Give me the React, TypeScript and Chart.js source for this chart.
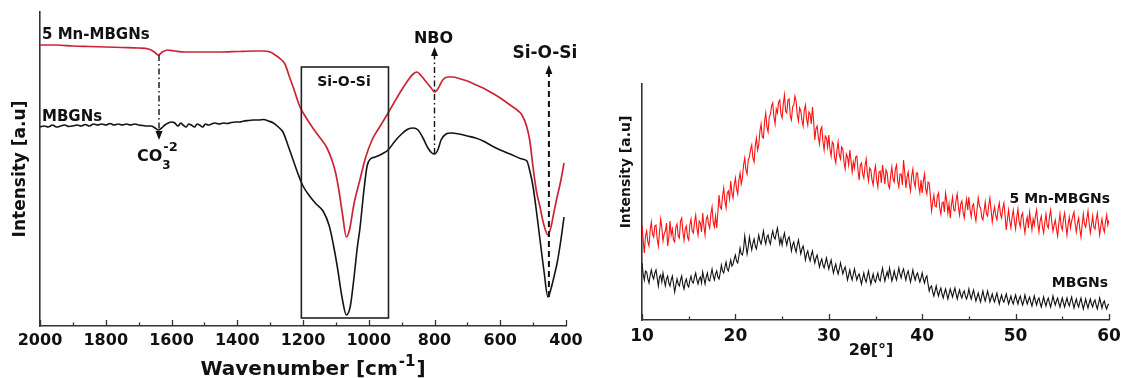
import React, { useEffect, useRef } from "react";
import { Chart, registerables } from "chart.js";

Chart.register(...registerables);

const FAMILY = "'DejaVu Sans', 'Liberation Sans', Arial, sans-serif";
const INK = "#111111";

// ---------------- FTIR (left panel) ----------------
const ftirTickValues = [2000, 1800, 1600, 1400, 1200, 1000, 800, 600, 400];
const ftirMinorTicks = [1900, 1700, 1500, 1300, 1100, 900, 700, 500];

const mnWavenumber = [
  2000, 1950, 1900, 1850, 1800, 1750, 1700, 1670, 1652, 1640, 1628, 1612, 1590, 1560, 1500, 1450, 1400,
  1350, 1320, 1300, 1280, 1265, 1255, 1240, 1230, 1220, 1209, 1190, 1170, 1150, 1127, 1110, 1100, 1090,
  1080, 1068, 1058, 1045, 1027, 1010, 990, 965, 941, 920, 900, 880, 865, 853, 840, 825, 810, 800, 790,
  775, 760, 745, 720, 700, 680, 652, 625, 600, 570, 545, 534, 520, 510, 500, 490, 479, 468, 455, 445,
  436, 427, 416, 406,
];
const mnTransmittance = [
  281, 281, 280, 279.5, 279, 278.5, 278, 277, 274, 271, 274, 276, 275, 274, 274, 274, 274.5,
  275, 275, 274, 270, 266, 262, 248, 239, 229, 219, 208, 198, 189, 178, 164, 152, 134,
  112, 89, 97, 122, 146, 168, 186, 200, 213, 225, 236, 246, 252, 254, 250, 244, 238, 234, 237,
  246, 249, 249, 247, 245, 242, 238, 233, 228, 221, 215, 211, 200, 185, 158, 135, 119, 102, 91, 100,
  115, 129, 145, 163,
];

const baseWavenumber = [
  2000, 1987, 1975, 1962, 1950, 1937, 1925, 1912, 1900, 1887, 1875, 1862, 1850, 1837, 1825, 1812, 1800,
  1787, 1775, 1762, 1750, 1737, 1725, 1712, 1700, 1687, 1675, 1662, 1650, 1640, 1630, 1620, 1610, 1600,
  1590, 1580, 1572, 1565, 1555, 1548, 1540, 1530, 1522, 1515, 1505, 1497, 1488, 1478, 1468, 1455, 1442,
  1430, 1418, 1405, 1392, 1380, 1365, 1350, 1335, 1320, 1305, 1290,
  1275, 1261, 1245, 1230, 1215, 1200, 1180, 1160, 1139, 1120, 1108, 1095, 1082, 1068, 1056,
  1045, 1035, 1027, 1015, 1005, 995, 980, 960, 941, 920, 900, 880, 865, 850, 835, 820, 808, 800, 790,
  780, 765, 750, 725, 700, 675, 652, 625, 600, 570, 534, 519, 510, 500, 490, 479, 467, 455, 445, 436,
  427, 416, 406,
];
const baseTransmittance = [
  199, 200, 199, 201, 199, 200, 201, 199.5, 200, 201, 200, 201.5, 200, 202, 201, 202, 201,
  202.5, 201, 202, 201, 202, 201, 202, 201, 200.5, 200, 200, 198, 196, 198, 201, 203, 204,
  203, 200, 203, 201, 199, 202, 201, 199, 202, 201, 199, 202, 201, 202, 203, 202, 203,
  202.5, 203.5, 204, 204, 205, 205.5, 206, 206, 206.5, 205, 203,
  199, 194, 180, 166, 152, 140, 130, 122, 115, 100, 82, 58, 30, 11, 20,
  48, 78, 97, 135, 160, 167, 169, 172, 176, 185, 192, 197, 198, 196, 188, 178, 173, 172, 176,
  186, 192, 193, 192, 190, 188, 185, 180, 176, 172, 167, 165, 155, 139, 115, 86, 55, 29, 38, 50,
  63, 85, 109,
];

// annotation anchors (data coordinates)
const siBox = { from: 1205, to: 940, low: 8, high: 259 };
const co3Arrow = { x: 1638, from: 271, to: 186 };
const nboArrow = { x: 800, from: 172, to: 279 };
const siArrow = { x: 452, from: 29, to: 261 };

// ---------------- XRD (right panel) ----------------
const xrdTickValues = [10, 20, 30, 40, 50, 60];
const xrdMinorTicks = [15, 25, 35, 45, 55];
const xrdStart = 10;
const xrdStep = 0.125;

const mnXrd = [
  95, 80, 67, 84, 89, 78, 74, 90, 98, 86, 83, 94, 95, 81, 74, 88, 101, 92, 79, 86,
  89, 97, 74, 83, 99, 85, 91, 80, 78, 93, 96, 84, 82, 99, 102, 88, 80, 91, 94, 83,
  80, 95, 101, 89, 87, 98, 105, 92, 85, 99, 97, 88, 107, 94, 85, 101, 104, 96, 92, 106,
  113, 98, 93, 104, 92, 108, 125, 113, 111, 124, 132, 119, 112, 127, 129, 121, 139, 127, 122, 135,
  142, 131, 126, 140, 147, 136, 142, 155, 162, 150, 146, 160, 163, 171, 175, 162, 158, 174, 182, 170,
  175, 189, 196, 183, 182, 199, 207, 193, 188, 203, 206, 214, 217, 203, 196, 211, 207, 218, 220, 206,
  202, 216, 225, 209, 207, 220, 221, 204, 200, 213, 215, 224, 219, 205, 199, 212, 209, 200, 194, 210,
  215, 201, 195, 208, 206, 196, 213, 199, 180, 191, 194, 183, 176, 190, 193, 178, 170, 184, 182, 173,
  185, 171, 164, 178, 176, 162, 157, 170, 178, 165, 161, 173, 171, 158, 151, 166, 163, 155, 170, 160,
  148, 158, 152, 163, 164, 150, 140, 155, 157, 146, 142, 154, 161, 147, 139, 152, 150, 140, 135, 148,
  154, 140, 133, 148, 149, 137, 155, 146, 136, 150, 147, 135, 132, 145, 153, 141, 138, 151, 155, 139,
  133, 146, 146, 135, 160, 148, 132, 143, 148, 136, 129, 144, 151, 138, 133, 147, 147, 134, 127, 140,
  127, 139, 146, 131, 126, 138, 137, 124, 109, 118, 125, 114, 113, 124, 127, 112, 106, 117, 118, 108,
  127, 119, 107, 116, 102, 115, 123, 110, 109, 120, 126, 113, 105, 116, 119, 108, 102, 113, 121, 110,
  123, 110, 103, 114, 116, 105, 99, 111, 122, 114, 112, 103, 100, 109, 118, 106, 104, 115, 122, 110,
  98, 107, 113, 104, 100, 111, 117, 106, 102, 112, 117, 104, 90, 101, 110, 99, 92, 103, 110, 99,
  91, 103, 111, 98, 93, 104, 107, 95, 87, 98, 103, 92, 108, 99, 90, 101, 95, 104, 110, 97,
  88, 99, 104, 93, 87, 97, 106, 95, 92, 103, 110, 98, 89, 95, 100, 91, 84, 96, 106, 94,
  90, 101, 107, 95, 85, 96, 103, 92, 99, 104, 108, 96, 88, 97, 102, 91, 83, 95, 106, 96,
  93, 101, 109, 97, 87, 95, 104, 93, 91, 100, 107, 96, 85, 94, 101, 92, 88, 98, 105, 95,
  100,
];
const baseXrd = [
  57, 46, 40, 49, 48, 41, 37, 45, 50, 44, 41, 47, 50, 42, 34, 43, 45, 38, 47, 40,
  34, 41, 44, 37, 34, 40, 44, 36, 28, 35, 41, 36, 34, 40, 44, 35, 31, 38, 41, 35,
  33, 40, 44, 38, 37, 43, 47, 40, 36, 41, 43, 37, 48, 42, 36, 43, 47, 40, 39, 45,
  51, 44, 40, 46, 49, 43, 41, 47, 55, 49, 47, 53, 58, 51, 49, 55, 60, 54, 56, 61,
  65, 59, 57, 64, 72, 66, 65, 71, 84, 75, 66, 73, 83, 76, 70, 77, 81, 74, 71, 78,
  85, 79, 76, 82, 89, 81, 76, 83, 85, 79, 76, 84, 89, 83, 81, 87, 92, 84, 76, 82,
  75, 82, 87, 80, 75, 81, 83, 77, 69, 75, 78, 72, 68, 75, 80, 73, 66, 71, 74, 68,
  60, 66, 69, 63, 59, 65, 69, 62, 57, 62, 65, 59, 53, 58, 61, 55, 52, 57, 62, 56,
  51, 56, 60, 53, 47, 52, 56, 50, 46, 51, 57, 52, 46, 50, 53, 47, 40, 45, 50, 44,
  40, 46, 51, 45, 40, 44, 46, 41, 36, 42, 47, 41, 38, 44, 49, 42, 36, 41, 46, 40,
  38, 43, 47, 41, 39, 46, 52, 45, 39, 44, 48, 43, 52, 46, 39, 43, 49, 44, 40, 46,
  52, 46, 42, 48, 51, 45, 40, 46, 49, 43, 38, 44, 50, 44, 40, 45, 47, 42, 38, 42,
  47, 41, 37, 42, 44, 36, 29, 33, 34, 28, 24, 29, 34, 28, 24, 29, 32, 26, 22, 27,
  31, 26, 21, 26, 31, 27, 23, 28, 32, 26, 21, 26, 30, 25, 22, 27, 29, 24, 21, 25,
  31, 25, 21, 26, 30, 24, 19, 23, 27, 22, 18, 24, 29, 23, 19, 24, 29, 24, 18, 22,
  26, 21, 18, 23, 27, 21, 16, 21, 25, 20, 18, 22, 26, 21, 16, 20, 24, 19, 16, 21,
  25, 20, 16, 21, 24, 19, 15, 19, 25, 20, 16, 20, 23, 18, 14, 19, 24, 19, 15, 20,
  22, 17, 13, 18, 23, 18, 14, 19, 22, 17, 13, 18, 24, 19, 15, 19, 22, 17, 13, 18,
  22, 17, 13, 18, 22, 17, 14, 19, 23, 17, 12, 17, 21, 16, 13, 18, 22, 16, 11, 16,
  21, 16, 12, 17, 21, 16, 13, 18, 20, 15, 11, 16, 22, 17, 12, 17, 19, 14, 11, 15,
  16,
];

// ---------------- helpers ----------------
const font = (size: number) => `bold ${size}px ${FAMILY}`;

function drawText(ctx: CanvasRenderingContext2D, s: string, x: number, y: number, size: number, align: CanvasTextAlign = "left") {
  ctx.font = font(size);
  ctx.fillStyle = INK;
  ctx.textAlign = align;
  ctx.textBaseline = "alphabetic";
  ctx.fillText(s, x, y);
}

function drawArrow(ctx: CanvasRenderingContext2D, x: number, yFrom: number, yTip: number, dash: number[], width: number) {
  const dir = Math.sign(yTip - yFrom);
  ctx.save();
  ctx.strokeStyle = INK;
  ctx.fillStyle = INK;
  ctx.lineWidth = width;
  ctx.setLineDash(dash);
  ctx.beginPath();
  ctx.moveTo(x, yFrom);
  ctx.lineTo(x, yTip - dir * 7);
  ctx.stroke();
  ctx.setLineDash([]);
  ctx.beginPath();
  ctx.moveTo(x, yTip);
  ctx.lineTo(x - 3.5, yTip - dir * 9);
  ctx.lineTo(x + 3.5, yTip - dir * 9);
  ctx.closePath();
  ctx.fill();
  ctx.restore();
}

function innerTicks(major: number[], minor: number[]) {
  return {
    id: "innerTicks",
    afterDatasetsDraw(chart: any) {
      const { ctx, chartArea } = chart;
      const xs = chart.scales.x;
      ctx.save();
      ctx.strokeStyle = "#333";
      ctx.lineWidth = 1.3;
      const draw = (v: number, len: number) => {
        const px = Math.round(xs.getPixelForValue(v)) + 0.5;
        ctx.beginPath();
        ctx.moveTo(px, chartArea.bottom);
        ctx.lineTo(px, chartArea.bottom - len);
        ctx.stroke();
      };
      major.forEach((v) => draw(v, 6));
      minor.forEach((v) => draw(v, 3.5));
      ctx.restore();
    },
  };
}

const ftirDecor = {
  id: "ftirDecor",
  afterDatasetsDraw(chart: any) {
    const { ctx, chartArea } = chart;
    const xs = chart.scales.x;
    const ys = chart.scales.y;
    const X = (v: number) => xs.getPixelForValue(v);
    const Y = (v: number) => ys.getPixelForValue(v);
    ctx.save();
    // Si-O-Si box
    ctx.strokeStyle = "#222";
    ctx.lineWidth = 1.6;
    ctx.strokeRect(X(siBox.from), Y(siBox.high), X(siBox.to) - X(siBox.from), Y(siBox.low) - Y(siBox.high));

    // arrows
    drawArrow(ctx, X(co3Arrow.x), Y(co3Arrow.from), Y(co3Arrow.to), [6, 3, 1.5, 3], 1.4);
    drawArrow(ctx, X(nboArrow.x), Y(nboArrow.from), Y(nboArrow.to), [6, 3, 1.5, 3], 1.4);
    drawArrow(ctx, X(siArrow.x), Y(siArrow.from), Y(siArrow.to), [6, 4], 2);

    // labels
    drawText(ctx, "5 Mn-MBGNs", chartArea.left + 2, 39, 15);
    drawText(ctx, "MBGNs", chartArea.left + 2, 121, 15);
    drawText(ctx, "NBO", X(nboArrow.x) - 1, 43, 16, "center");
    drawText(ctx, "Si-O-Si", X(siArrow.x) - 4, 58, 17, "center");
    drawText(ctx, "Si-O-Si", (X(siBox.from) + X(siBox.to)) / 2 - 1, 86, 14, "center");
    // CO3^-2
    const cx = X(co3Arrow.x) - 22;
    drawText(ctx, "CO", cx, 161, 16);
    ctx.font = font(16);
    const coW = ctx.measureText("CO").width;
    drawText(ctx, "3", cx + coW, 169, 12);
    drawText(ctx, "-2", cx + coW + 1, 151, 13);

    // y title
    ctx.save();
    ctx.translate(chartArea.left - 21, (chartArea.top + chartArea.bottom) / 2);
    ctx.rotate(-Math.PI / 2);
    drawText(ctx, "Intensity [a.u]", 0, 6, 17, "center");
    ctx.restore();

    // x title with superscript
    ctx.font = font(20);
    const p1 = "Wavenumber [cm";
    const w1 = ctx.measureText(p1).width;
    ctx.font = font(15);
    const w2 = ctx.measureText("-1").width;
    ctx.font = font(20);
    const w3 = ctx.measureText("]").width;
    const total = w1 + w2 + w3 + 2;
    const start = 313 - total / 2;
    drawText(ctx, p1, start, 375, 20);
    drawText(ctx, "-1", start + w1 + 1, 366, 15);
    drawText(ctx, "]", start + w1 + w2 + 2, 375, 20);
    ctx.restore();
  },
};

const xrdDecor = {
  id: "xrdDecor",
  afterDatasetsDraw(chart: any) {
    const { ctx, chartArea } = chart;
    ctx.save();
    drawText(ctx, "5 Mn-MBGNs", chartArea.right + 1, 203, 14, "right");
    drawText(ctx, "MBGNs", chartArea.right - 1, 287, 14, "right");
    drawText(ctx, "2θ[°]", 271, 355, 16, "center");
    ctx.save();
    ctx.translate(chartArea.left - 17, 172);
    ctx.rotate(-Math.PI / 2);
    drawText(ctx, "Intensity [a.u]", 0, 5, 14, "center");
    ctx.restore();
    ctx.restore();
  },
};

function xAxis(min: number, max: number, step: number, reverse: boolean, height: number, size: number, pad: number) {
  return {
    type: "linear" as const,
    min,
    max,
    reverse,
    afterFit: (s: any) => {
      s.height = height;
    },
    grid: { display: false, drawTicks: false },
    border: { display: true, color: "#333", width: 1.6 },
    ticks: {
      stepSize: step,
      padding: pad,
      color: INK,
      maxRotation: 0,
      autoSkip: false,
      callback: (v: any) => String(v),
      font: { family: FAMILY, weight: "bold" as const, size },
    },
  };
}

function yAxis(min: number, max: number) {
  return {
    type: "linear" as const,
    min,
    max,
    afterFit: (s: any) => {
      s.width = 0;
    },
    grid: { display: false, drawTicks: false },
    border: { display: true, color: "#333", width: 1.6 },
    ticks: { display: false },
  };
}

export default function App() {
  const leftRef = useRef<HTMLCanvasElement | null>(null);
  const rightRef = useRef<HTMLCanvasElement | null>(null);

  useEffect(() => {
    if (!leftRef.current || !rightRef.current) return;

    const mnFtirData = mnWavenumber.map((w, i) => ({ x: w, y: mnTransmittance[i] }));
    const baseFtirData = baseWavenumber.map((w, i) => ({ x: w, y: baseTransmittance[i] }));
    const angle = (i: number) => xrdStart + i * xrdStep;
    const mnXrdData = mnXrd.map((v, i) => ({ x: angle(i), y: v }));
    const baseXrdData = baseXrd.map((v, i) => ({ x: angle(i), y: v }));

    const left = new Chart(leftRef.current, {
      type: "line",
      data: {
        datasets: [
          {
            label: "5 Mn-MBGNs",
            data: mnFtirData,
            borderColor: "#cc2434",
            borderWidth: 1.7,
            pointRadius: 0,
            cubicInterpolationMode: "monotone",
          },
          {
            label: "MBGNs",
            data: baseFtirData,
            borderColor: "#141414",
            borderWidth: 1.6,
            pointRadius: 0,
            cubicInterpolationMode: "monotone",
          },
        ],
      },
      options: {
        animation: false,
        responsive: false,
        maintainAspectRatio: false,
        layout: { padding: { left: 40, right: 34, top: 12, bottom: 0 } },
        plugins: { legend: { display: false }, tooltip: { enabled: false } },
        scales: {
          x: xAxis(400, 2000, 200, true, 52, 16, 5),
          y: yAxis(0, 314),
        },
      },
      plugins: [innerTicks(ftirTickValues, ftirMinorTicks), ftirDecor],
    } as any);

    const right = new Chart(rightRef.current, {
      type: "line",
      data: {
        datasets: [
          {
            label: "5 Mn-MBGNs",
            data: mnXrdData,
            borderColor: "#ff1010",
            borderWidth: 1.1,
            pointRadius: 0,
            tension: 0,
          },
          {
            label: "MBGNs",
            data: baseXrdData,
            borderColor: "#111111",
            borderWidth: 1.1,
            pointRadius: 0,
            tension: 0,
          },
        ],
      },
      options: {
        animation: false,
        responsive: false,
        maintainAspectRatio: false,
        layout: { padding: { left: 42, right: 19, top: 84, bottom: 0 } },
        plugins: { legend: { display: false }, tooltip: { enabled: false } },
        scales: {
          x: xAxis(10, 60, 10, false, 58, 17, 6),
          y: yAxis(0, 236),
        },
      },
      plugins: [innerTicks(xrdTickValues, xrdMinorTicks), xrdDecor],
    } as any);

    return () => {
      left.destroy();
      right.destroy();
    };
  }, []);

  return (
    <div style={{ position: "absolute", left: 0, top: 0, width: 1128, height: 378, background: "#fff", overflow: "hidden" }}>
      <canvas ref={leftRef} width={600} height={378} style={{ position: "absolute", left: 0, top: 0, width: 600, height: 378 }} />
      <canvas ref={rightRef} width={528} height={378} style={{ position: "absolute", left: 600, top: 0, width: 528, height: 378 }} />
    </div>
  );
}
